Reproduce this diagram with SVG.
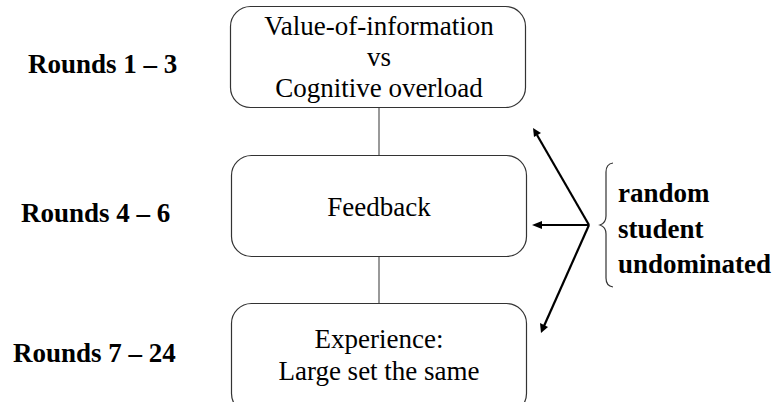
<svg xmlns="http://www.w3.org/2000/svg" width="783" height="402" viewBox="0 0 783 402">
<rect width="783" height="402" fill="#fff"/>
<g id="connectors" fill="none">
<line x1="379" y1="108" x2="379" y2="155" stroke="#555" stroke-width="1.2"/>
<line x1="379" y1="256" x2="379" y2="303" stroke="#555" stroke-width="1.2"/>
<line x1="589" y1="225" x2="537" y2="135" stroke="#000" stroke-width="2.2"/>
<line x1="589" y1="225" x2="541" y2="225" stroke="#000" stroke-width="2.2"/>
<line x1="589" y1="225" x2="544" y2="326" stroke="#000" stroke-width="2.2"/>
<polygon points="533,128 541,133 534,137" fill="#000"/>
<polygon points="532,225 542,221 542,229" fill="#000"/>
<polygon points="541,333 540,323 548,327" fill="#000"/>
<path d="M613,163 Q606,164 606,172 L606,216 Q606,223 600,225 Q606,227 606,234 L606,278 Q606,286 613,287" stroke="#333" stroke-width="1.2"/>
</g>
<g id="n1">
<rect x="230.5" y="6.5" width="295" height="101" rx="20" fill="#fff" stroke="#333" stroke-width="1.2"/>
<text x="379" y="35" font-family="Liberation Serif" font-size="27" text-anchor="middle">Value-of-information</text>
<text x="379" y="66" font-family="Liberation Serif" font-size="27" text-anchor="middle">vs</text>
<text x="379" y="97" font-family="Liberation Serif" font-size="27" text-anchor="middle">Cognitive overload</text>
</g>
<g id="n2">
<rect x="231.5" y="155.5" width="295" height="101" rx="20" fill="#fff" stroke="#333" stroke-width="1.2"/>
<text x="379" y="216" font-family="Liberation Serif" font-size="27" text-anchor="middle">Feedback</text>
</g>
<g id="n3">
<rect x="231.5" y="303.5" width="295" height="110" rx="20" fill="#fff" stroke="#333" stroke-width="1.2"/>
<text x="379" y="348" font-family="Liberation Serif" font-size="27" text-anchor="middle">Experience:</text>
<text x="379" y="380" font-family="Liberation Serif" font-size="27" text-anchor="middle">Large set the same</text>
</g>
<g id="labels">
<text x="28" y="73" font-family="Liberation Serif" font-size="27" font-weight="bold">Rounds 1 &#8211; 3</text>
<text x="21" y="222" font-family="Liberation Serif" font-size="27" font-weight="bold">Rounds 4 &#8211; 6</text>
<text x="13" y="362" font-family="Liberation Serif" font-size="27" font-weight="bold">Rounds 7 &#8211; 24</text>
<text x="618" y="202" font-family="Liberation Serif" font-size="27" font-weight="bold">random</text>
<text x="618" y="238" font-family="Liberation Serif" font-size="27" font-weight="bold">student</text>
<text x="618" y="273" font-family="Liberation Serif" font-size="27" font-weight="bold">undominated</text>
</g>
</svg>
